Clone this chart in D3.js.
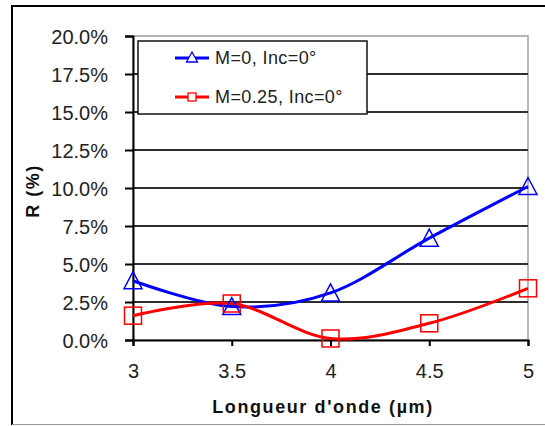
<!DOCTYPE html>
<html><head><meta charset="utf-8">
<script src="https://cdn.jsdelivr.net/npm/d3@7"></script>
<style>
html,body{margin:0;padding:0;background:#fff;}
svg{display:block;font-family:"Liberation Sans",Arial,sans-serif;}
</style></head>
<body>
<svg id="c" width="545" height="426"></svg>
<script>
const wavelengths = [3, 3.5, 4, 4.5, 5];
const seriesNames = ["M=0, Inc=0°", "M=0.25, Inc=0°"];
const seriesM0 = [3.9, 2.2, 3.1, 6.7, 10.1];
const seriesM025 = [1.6, 2.4, 0.1, 1.1, 3.4];
const yTicks = [0, 2.5, 5, 7.5, 10, 12.5, 15, 17.5, 20];
const xTicks = [3, 3.5, 4, 4.5, 5];
const xTitle = "Longueur d'onde (µm)";
const yTitle = "R (%)";

const svg = d3.select("#c");
const x = d3.scaleLinear().domain([3, 5]).range([133, 528]);
const y = d3.scaleLinear().domain([0, 20]).range([340, 36]);

// outer frame
svg.append("line").attr("x1",12).attr("x2",545).attr("y1",6).attr("y2",6).attr("stroke","#000").attr("stroke-width",2);
svg.append("line").attr("x1",12).attr("x2",12).attr("y1",5).attr("y2",425).attr("stroke","#000").attr("stroke-width",2);
svg.append("line").attr("x1",12).attr("x2",545).attr("y1",424.5).attr("y2",424.5).attr("stroke","#999").attr("stroke-width",1);

// plot border (gray)
svg.append("rect").attr("x",x(3)).attr("y",y(20)).attr("width",x(5)-x(3)).attr("height",y(0)-y(20))
  .attr("fill","none").attr("stroke","#a0a0a0").attr("stroke-width",1.5);

// gridlines
svg.append("g").selectAll("line").data(yTicks.filter(d=>d>0 && d<20)).join("line")
  .attr("x1",x(3)).attr("x2",x(5)).attr("y1",d=>y(d)).attr("y2",d=>y(d))
  .attr("stroke","#2e2e2e").attr("stroke-width",2);

// y axis
const yAxis = d3.axisLeft(y).tickValues(yTicks).tickSize(8).tickPadding(17)
  .tickFormat(d=>d3.format(".1f")(d)+"%");
const gy = svg.append("g").attr("transform",`translate(${x(3)},0)`).call(yAxis);
gy.select(".domain").attr("stroke","#000").attr("stroke-width",2);
gy.selectAll(".tick line").attr("stroke","#000").attr("stroke-width",2);
gy.selectAll(".tick text").attr("font-size",20).attr("fill","#222")
  .attr("font-family","'Liberation Sans',Arial,sans-serif").attr("dy","0.36em");

// x axis
const xAxis = d3.axisBottom(x).tickValues(xTicks).tickSize(6).tickPadding(18)
  .tickFormat(d=>String(d));
const gx = svg.append("g").attr("transform",`translate(0,${y(0)})`).call(xAxis);
gx.select(".domain").attr("stroke","#000").attr("stroke-width",2);
gx.selectAll(".tick line").attr("stroke","#000").attr("stroke-width",2);
gx.selectAll(".tick text").attr("font-size",20).attr("fill","#222")
  .attr("font-family","'Liberation Sans',Arial,sans-serif");

// titles
svg.append("text").attr("x",323).attr("y",413).attr("text-anchor","middle")
  .attr("font-size",18).attr("font-weight","bold").attr("letter-spacing","1.6px").attr("fill","#111")
  .text(xTitle);
svg.append("text").attr("transform","translate(39,191) rotate(-90)").attr("text-anchor","middle")
  .attr("font-size",18).attr("font-weight","bold").attr("letter-spacing","1.5px").attr("fill","#111")
  .text(yTitle);

// lines
const line = d3.line().x((d,i)=>x(wavelengths[i])).y(d=>y(d)).curve(d3.curveCardinal.tension(0));
const colors = ["#0000ff","#ff0000"];
const data = [seriesM0, seriesM025];

data.forEach((s,k)=>{
  svg.append("path").datum(s).attr("d",line).attr("fill","none")
    .attr("stroke",colors[k]).attr("stroke-width",3);
});

// markers
function tri(cx, cy, w, h){ return `M${cx},${cy-h/2}L${cx+w/2},${cy+h/2}L${cx-w/2},${cy+h/2}Z`; }
svg.append("g").selectAll("path").data(seriesM0).join("path")
  .attr("d",(d,i)=>tri(x(wavelengths[i]), y(d)-0.5, 18, 17))
  .attr("fill","none").attr("stroke",colors[0]).attr("stroke-width",1.5);
svg.append("g").selectAll("rect").data(seriesM025).join("rect")
  .attr("x",(d,i)=>x(wavelengths[i])-8.5).attr("y",d=>y(d)-8.5).attr("width",17).attr("height",17)
  .attr("fill","none").attr("stroke",colors[1]).attr("stroke-width",1.5);

// legend
const lg = svg.append("g");
lg.append("rect").attr("x",138).attr("y",41).attr("width",229).attr("height",73)
  .attr("fill","#fff").attr("stroke","#111").attr("stroke-width",1.5);
const ly = [58, 97];
seriesNames.forEach((n,k)=>{
  lg.append("line").attr("x1",175).attr("x2",209).attr("y1",ly[k]).attr("y2",ly[k])
    .attr("stroke",colors[k]).attr("stroke-width",3);
  if(k===0){
    lg.append("path").attr("d",tri(192, ly[k]-1, 11, 10)).attr("fill","#fff").attr("stroke",colors[k]).attr("stroke-width",1.3);
  } else {
    lg.append("rect").attr("x",188).attr("y",ly[k]-4).attr("width",8).attr("height",8)
      .attr("fill","#fff").attr("stroke",colors[k]).attr("stroke-width",1.3);
  }
  lg.append("text").attr("x",215).attr("y",ly[k]).attr("dy","0.36em")
    .attr("font-size",18).attr("letter-spacing","0.4px").attr("fill","#222").text(n);
});
</script>
</body></html>
